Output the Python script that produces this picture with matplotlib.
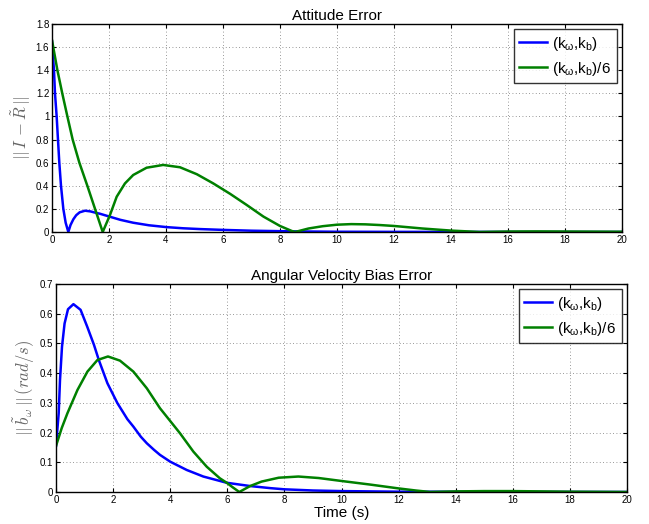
import matplotlib
matplotlib.use("Agg")
import matplotlib.pyplot as plt

# ---------------- data ----------------
t_att_blue = [0, 0.012, 0.07, 0.105, 0.164, 0.21, 0.257, 0.316, 0.398, 0.48, 0.573, 0.65, 0.75, 0.85,
              0.97, 1.16, 1.35, 1.55, 1.68, 1.99, 2.4, 2.85, 3.4, 4.02, 4.6, 5.2, 6.0, 7.0, 8.0, 9.0,
              10.0, 12.0, 14.0, 20.0]
att_blue = [1.65, 1.6, 1.4, 1.2, 1.0, 0.8, 0.6, 0.4, 0.2, 0.08, 0.0, 0.06, 0.11, 0.145,
            0.17, 0.184, 0.178, 0.165, 0.158, 0.135, 0.105, 0.08, 0.058, 0.042, 0.032, 0.025, 0.018, 0.011,
            0.007, 0.004, 0.002, 0.001, 0.0005, 0.0]

t_att_green = [0, 0.19, 0.36, 0.54, 0.725, 0.96, 1.24, 1.51, 1.78, 2.035, 2.27, 2.56, 2.85, 3.32, 3.9,
               4.49, 5.08, 5.66, 6.25, 6.83, 7.42, 8.0, 8.41, 8.53, 9.0, 9.5, 10.0, 10.5, 11.0, 11.5, 12.0,
               13.0, 14.0, 15.0, 16.0, 17.0, 18.0, 20.0]
att_green = [1.66, 1.4, 1.2, 1.0, 0.8, 0.6, 0.4, 0.2, 0.0, 0.147, 0.305, 0.42, 0.493, 0.556, 0.58,
             0.56, 0.5, 0.42, 0.33, 0.234, 0.133, 0.052, 0.009, 0.0, 0.03, 0.05, 0.063, 0.068, 0.066, 0.06,
             0.052, 0.03, 0.012, 0.0, 0.004, 0.005, 0.004, 0.002]

t_bias_blue = [0, 0.094, 0.14, 0.21, 0.3, 0.42, 0.61, 0.86, 1.09, 1.33, 1.5, 1.8, 2.15, 2.5, 2.71, 2.97,
               3.18, 3.43, 3.64, 4.0, 4.58, 5.16, 5.98, 6.8, 7.5, 8.0, 9.0, 10.0, 12.0, 20.0]
bias_blue = [0.155, 0.265, 0.377, 0.489, 0.567, 0.615, 0.632, 0.613, 0.557, 0.495, 0.444, 0.366, 0.299,
             0.245, 0.22, 0.186, 0.164, 0.142, 0.125, 0.102, 0.074, 0.052, 0.031, 0.02, 0.013, 0.009, 0.005,
             0.003, 0.001, 0.0]

t_bias_green = [0, 0.2, 0.4, 0.75, 1.1, 1.45, 1.82, 2.24, 2.71, 3.18, 3.64, 3.99, 4.34, 4.81, 5.28, 5.74,
                5.98, 6.2, 6.42, 6.8, 7.2, 7.8, 8.49, 9.2, 10.0, 11.0, 12.0, 12.6, 13.1, 14.0, 15.0, 16.0,
                17.0, 18.0, 20.0]
bias_green = [0.155, 0.215, 0.265, 0.343, 0.405, 0.444, 0.456, 0.442, 0.405, 0.349, 0.282, 0.24, 0.198,
              0.136, 0.085, 0.046, 0.031, 0.015, 0.0, 0.02, 0.035, 0.048, 0.052, 0.047, 0.037, 0.025, 0.012,
              0.005, 0.0, 0.002, 0.003, 0.003, 0.002, 0.001, 0.0]

labels = [r"(k$_{\mathrm{\omega}}$,k$_{\mathrm{b}}$)", r"(k$_{\mathrm{\omega}}$,k$_{\mathrm{b}}$)/6"]
xticks = [0, 2, 4, 6, 8, 10, 12, 14, 16, 18, 20]
yticks_att = [0, 0.2, 0.4, 0.6, 0.8, 1, 1.2, 1.4, 1.6, 1.8]
yticks_bias = [0, 0.1, 0.2, 0.3, 0.4, 0.5, 0.6, 0.7]

# ---------------- style ----------------
plt.rcParams['font.family'] = ['Liberation Sans', 'DejaVu Sans']
plt.rcParams['mathtext.fontset'] = 'custom'
plt.rcParams['mathtext.rm'] = 'Liberation Sans'
plt.rcParams['mathtext.it'] = 'Liberation Sans:italic'

BLUE = (0, 0, 1)
GREEN = (0, 0.5, 0)

fig = plt.figure(figsize=(6.49, 5.24), dpi=100)
ax1 = fig.add_axes([0.0801, 0.5573, 0.8783, 0.397])
ax2 = fig.add_axes([0.0863, 0.0611, 0.8798, 0.397])


def style(ax, yticks, ylim):
    ax.set_xlim(0, 20)
    ax.set_ylim(*ylim)
    ax.set_xticks(xticks)
    ax.set_yticks(yticks)
    ax.set_yticklabels([("%g" % v) for v in yticks])
    ax.tick_params(direction='in', top=True, right=True, labelsize=7, length=3, width=0.8, pad=2)
    ax.grid(True, linestyle=(0, (1, 3)), color='#777777', linewidth=0.6)
    for s in ax.spines.values():
        s.set_linewidth(1.0)
        s.set_color('black')


def legend(ax, handles):
    leg = ax.legend(handles, labels, loc='upper right', fontsize=11, frameon=True, fancybox=False,
                    edgecolor='black', borderaxespad=0.35, handlelength=1.8, handletextpad=0.35,
                    borderpad=0.35, labelspacing=0.45)
    leg.get_frame().set_linewidth(1.0)
    return leg


l1, = ax1.plot(t_att_blue, att_blue, color=BLUE, lw=1.8)
l2, = ax1.plot(t_att_green, att_green, color=GREEN, lw=1.8)
style(ax1, yticks_att, (0, 1.8))
ax1.set_title("Attitude Error", fontsize=11, pad=3)
ax1.set_ylabel(r"$||\,I\,-\tilde{R}\,||$", fontsize=12, color='#666666', math_fontfamily='cm', labelpad=2)
legend(ax1, [l1, l2])

m1, = ax2.plot(t_bias_blue, bias_blue, color=BLUE, lw=1.8)
m2, = ax2.plot(t_bias_green, bias_green, color=GREEN, lw=1.8)
style(ax2, yticks_bias, (0, 0.7))
ax2.set_title("Angular Velocity Bias Error", fontsize=11, pad=3)
ax2.set_ylabel(r"$||\,\tilde{b}_\omega\,||\,(rad/s)$", fontsize=12, color='#666666', math_fontfamily='cm',
               labelpad=2)
ax2.set_xlabel("Time (s)", fontsize=11, labelpad=1)
legend(ax2, [m1, m2])

fig.savefig("out.png", dpi=100)
